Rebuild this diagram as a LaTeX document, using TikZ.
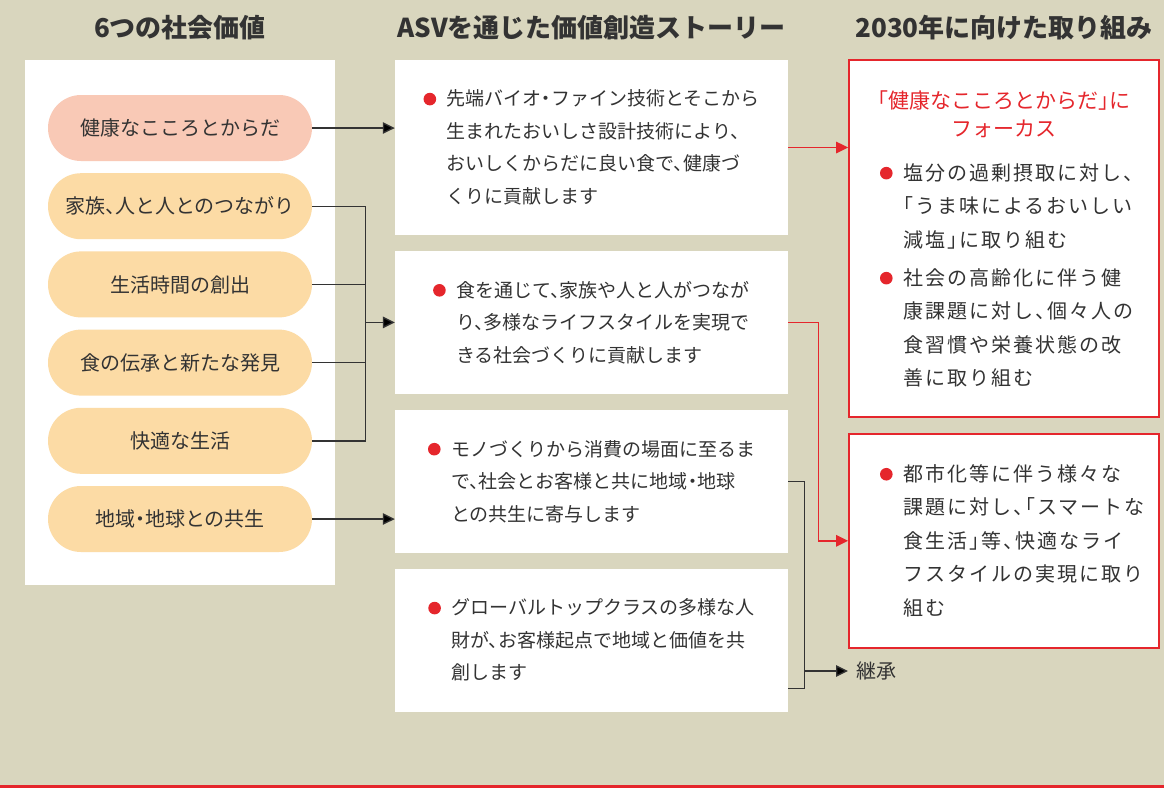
\documentclass[tikz,border=0pt]{standalone}
\usepackage{fontspec}
\setmainfont[RawFeature=+halt]{Noto Sans CJK JP}
\newfontfamily\widejp[RawFeature=+halt, LetterSpace=10]{Noto Sans CJK JP}
\usepackage{xcolor}
\usetikzlibrary{positioning,arrows.meta}
\definecolor{asvbg}{HTML}{D9D6BE}
\definecolor{asvred}{HTML}{E5262C}
\definecolor{pillorange}{HTML}{FCDBA5}
\definecolor{pillpink}{HTML}{F9C9B6}
\definecolor{inkgray}{HTML}{333333}
\newcommand{\asvdot}{\tikz[baseline=-0.36em]\fill[asvred] (0,0) circle (6.3pt);}
\newcommand{\bmark}{\makebox[23pt][l]{\asvdot}}
\newcommand{\bhang}{\hspace*{23pt}}

\begin{document}
\begin{tikzpicture}[
  x=1pt, y=-1pt,
  head/.style={font=\fontsize{26}{30}\selectfont\bfseries, text=inkgray},
  vpill/.style={fill=pillorange, rounded corners=33pt, minimum width=264pt,
               minimum height=66pt, inner sep=0pt, text=inkgray,
               font=\fontsize{20}{24}\selectfont},
  sbox/.style={fill=white, minimum width=393pt, inner sep=0pt, align=left,
              text=inkgray, font=\fontsize{19}{32.5}\selectfont},
  gbox/.style={draw=asvred, line width=1.8pt, fill=white, minimum width=310pt,
              inner sep=0pt},
  gtext/.style={align=left, text width=248pt, text=inkgray,
               font=\widejp\fontsize{20}{33.5}\selectfont},
  link/.style={line width=1.4pt, draw=inkgray},
  arw/.style={link, -{Triangle[length=12pt, width=11.5pt]}},
  rarw/.style={line width=1.4pt, draw=asvred, -{Triangle[length=12pt, width=11.5pt]}}
]
\fill[asvbg] (0,0) rectangle (1164,788);
\useasboundingbox (0,0) rectangle (1164,788);
\fill[asvred] (0,785) rectangle (1164,788);

\node[head] (h1) at (180,28) {6つの社会価値};
\node[head] (h2) at (591.5,28) {ASVを通じた価値創造ストーリー};
\node[head] (h3) at (1004,28) {2030年に向けた取り組み};

\node[fill=white, minimum width=310pt, minimum height=525pt, inner sep=0pt] (values) at (180,322.5) {};
\node[vpill, fill=pillpink] (health) at (180,128) {健康なこころとからだ};
\node[vpill, below=11.8pt of health] (family) {家族、人と人とのつながり};
\node[vpill, below=11.8pt of family] (timeval) {生活時間の創出};
\node[vpill, below=11.8pt of timeval] (foodval) {食の伝承と新たな発見};
\node[vpill, below=11.8pt of foodval] (comfort) {快適な生活};
\node[vpill, below=11.8pt of comfort] (planet) {地域・地球との共生};

\node[sbox, minimum height=175pt] (tech) at (591.5,147.5)
  {\bmark 先端バイオ・ファイン技術とそこから\\
   \bhang 生まれたおいしさ設計技術により、\\
   \bhang おいしくからだに良い食で、健康づ\\
   \bhang くりに貢献します};
\node[sbox, minimum height=143pt, below=15.5pt of tech] (bonds)
  {\bmark 食を通じて、家族や人と人がつなが\\
   \bhang り、多様なライフスタイルを実現で\\
   \bhang きる社会づくりに貢献します};
\node[sbox, minimum height=143pt, below=15.5pt of bonds] (circular)
  {\bmark モノづくりから消費の場面に至るま\\
   \bhang で、社会とお客様と共に地域・地球\\
   \bhang との共生に寄与します};
\node[sbox, minimum height=143pt, below=15.5pt of circular] (talent)
  {\bmark グローバルトップクラスの多様な人\\
   \bhang 財が、お客様起点で地域と価値を共\\
   \bhang 創します};

\node[gbox, minimum height=357pt] (focus) at (1004,238.5) {};
\node[text=asvred, align=center, font=\fontsize{21}{28}\selectfont] (focustitle) at (1004,114)
  {「健康なこころとからだ」に\\フォーカス};
\node[gtext] (focuslist) at (1004,275.5)
  {\bmark 塩分の過剰摂取に対し、\\
   \bhang「うま味によるおいしい\\
   \bhang 減塩」に取り組む\\[4.5pt]
   \bmark 社会の高齢化に伴う健\\
   \bhang 康課題に対し、個々人の\\
   \bhang 食習慣や栄養状態の改\\
   \bhang 善に取り組む};
\node[gbox, gtext, minimum height=214pt, below=15pt of focus] (smart)
  {\bmark 都市化等に伴う様々な\\
   \bhang 課題に対し、「スマートな\\
   \bhang 食生活」等、快適なライ\\
   \bhang フスタイルの実現に取り\\
   \bhang 組む};

\node[anchor=west, inner xsep=8pt, text=inkgray, font=\fontsize{20}{24}\selectfont] (inherit) at (848,671) {継承};

\draw[arw] (health.east) -- (health.east -| tech.west);
\coordinate (jn) at ([xshift=53pt]family.east);
\draw[link] (family.east) -- (jn) |- (comfort.east);
\draw[link] (timeval.east) -- (timeval.east -| jn);
\draw[link] (foodval.east) -- (foodval.east -| jn);
\draw[arw] (jn |- bonds.west) -- (bonds.west);
\draw[arw] (planet.east) -- (planet.east -| circular.west);

\draw[rarw] (tech.east) -- (tech.east -| focus.west);
\draw[rarw] (bonds.east) -- ++(30,0) |- (smart.west);

\coordinate (low) at ([yshift=-48.5pt]talent.east);
\coordinate (bend) at ([xshift=16pt]circular.east);
\draw[link] (circular.east) -- (bend) |- (low);
\draw[arw] (bend |- inherit.west) -- (inherit.west);
\end{tikzpicture}
\end{document}
